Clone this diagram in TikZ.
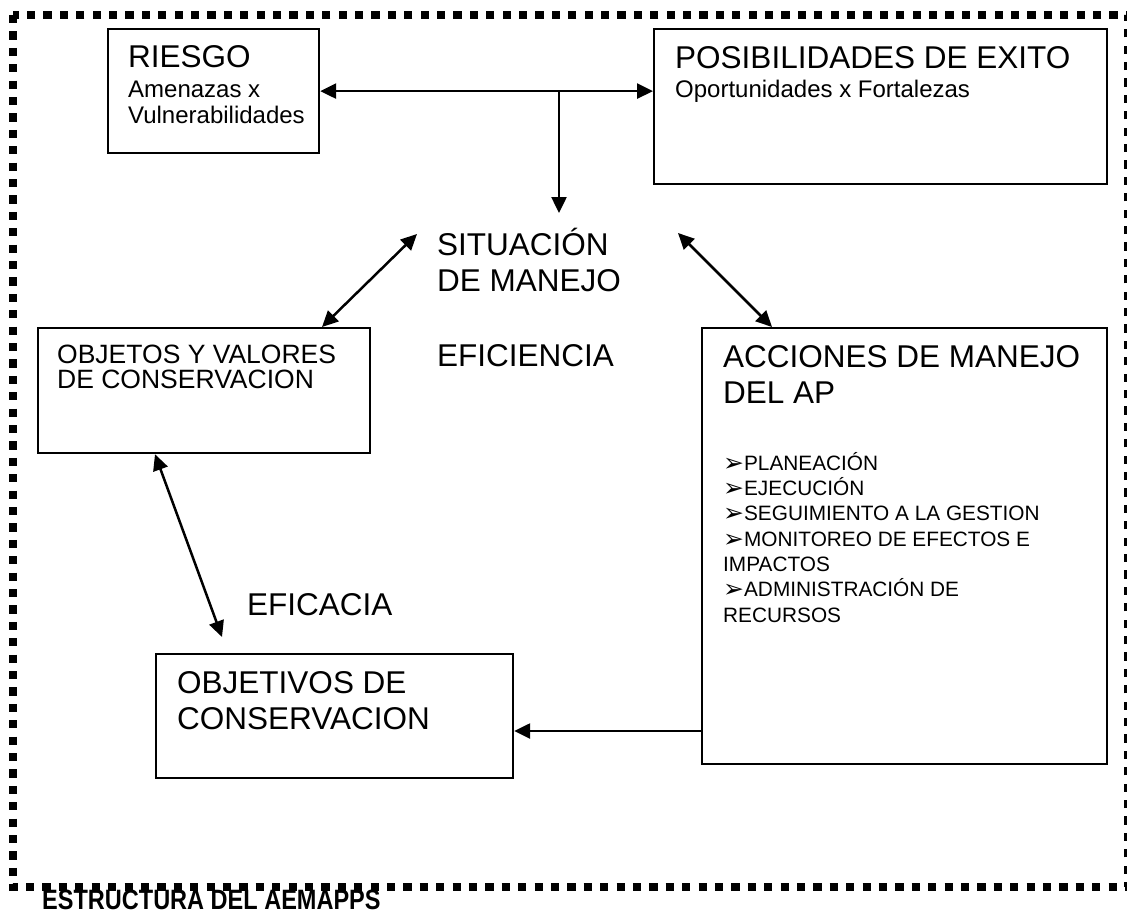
\documentclass[tikz,border=0pt]{standalone}
\usepackage{fontspec}
\setmainfont{Liberation Sans}
\newfontfamily\dingfont{DejaVu Sans}
\usetikzlibrary{arrows.meta}

\newcommand{\bul}{\raisebox{-1pt}{\scalebox{1.2}{\dingfont\char"27A2}}}

\begin{document}
\begin{tikzpicture}[x=1pt, y=-1pt,
box/.style={draw=black, line width=2.2pt, anchor=north west, inner sep=0pt},
title/.style={anchor=base west, inner sep=0pt, align=left, font=\fontsize{31.5}{36}\selectfont},
sub/.style={anchor=base west, inner sep=0pt, align=left, font=\fontsize{24}{25.3}\selectfont},
list/.style={anchor=base west, inner sep=0pt, align=left, font=\fontsize{20.8}{25.3}\selectfont},
arr/.style={line width=2.5pt, -{Triangle[length=16pt, width=15pt]}},
dbl/.style={line width=2.5pt, {Triangle[length=16pt, width=15pt]}-{Triangle[length=16pt, width=15pt]}},
frame/.style={line width=8pt, dash pattern=on 8.2pt off 8.2pt}
]
\useasboundingbox (0,0) rectangle (1127,916);
%Frame
\draw[frame] (12.5,15) rectangle (1128,887);
\node[anchor=base west, inner sep=0pt, font=\fontsize{28}{30}\selectfont\bfseries] (caption) at (42,909) {\scalebox{0.84}[1]{ESTRUCTURA DEL AEMAPPS}};
%Boxes
\node[box, minimum width=211pt, minimum height=124pt] (riesgo)    at (107,28)  {};
\node[box, minimum width=453pt, minimum height=155pt] (posib)     at (653,28)  {};
\node[box, minimum width=332pt, minimum height=125pt] (objetos)   at (37,327)  {};
\node[box, minimum width=405pt, minimum height=436pt] (acciones)  at (701,327) {};
\node[box, minimum width=357pt, minimum height=124pt] (objetivos) at (155,653) {};
%Texts (base = last line)
\node[title] (riesgoT) at ([shift={(21,39)}]riesgo.north west) {RIESGO};
\node[sub]   (riesgoS) at ([shift={(21,95)}]riesgo.north west) {Amenazas x\\Vulnerabilidades};
\node[title] (posibT)  at ([shift={(22,40)}]posib.north west) {POSIBILIDADES DE EXITO};
\node[sub]   (posibS)  at ([shift={(22,69)}]posib.north west) {Oportunidades x Fortalezas};
\node[anchor=base west, inner sep=0pt, align=left, font=\fontsize{26.5}{25}\selectfont]
             (objetosT) at ([shift={(20,61)}]objetos.north west) {OBJETOS Y VALORES\\DE CONSERVACION};
\node[title] (accionesT) at ([shift={(22,76)}]acciones.north west) {ACCIONES DE MANEJO\\DEL AP};
\node[list]  (pasos)     at ([shift={(22,295)}]acciones.north west)
  {\bul PLANEACIÓN\\\bul EJECUCIÓN\\\bul SEGUIMIENTO A LA GESTION\\\bul MONITOREO DE EFECTOS E\\IMPACTOS\\\bul ADMINISTRACIÓN DE\\RECURSOS};
\node[title] (objetivosT) at ([shift={(22,76)}]objetivos.north west) {OBJETIVOS DE\\CONSERVACION};
\node[title] (situacion)  at (437,291) {SITUACIÓN\\DE MANEJO};
\node[title] (eficiencia) at (437,366) {EFICIENCIA};
\node[title] (eficacia)   at (247,615) {EFICACIA};
%Arrows
\coordinate (fork) at (559,90);
\coordinate (situTop) at (559,213);
\coordinate (sitL) at (417,234);
\coordinate (sitR) at (678,233);
\coordinate (objTop) at ([shift={(67,-16)}]objetivos.north west);
\draw[dbl] (riesgo.east) -- (riesgo.east -| posib.west);
\draw[arr] (fork) -- (situTop);
\draw[dbl] (sitL) -- ([shift={(285,0)}]objetos.north west);
\draw[dbl] (sitR) -- ([shift={(71,0)}]acciones.north west);
\draw[dbl] ([shift={(118,0)}]objetos.south west) -- (objTop);
\draw[arr] ([shift={(0,404)}]acciones.north west) -- ([shift={(0,78)}]objetivos.north east);
\end{tikzpicture}
\end{document}
